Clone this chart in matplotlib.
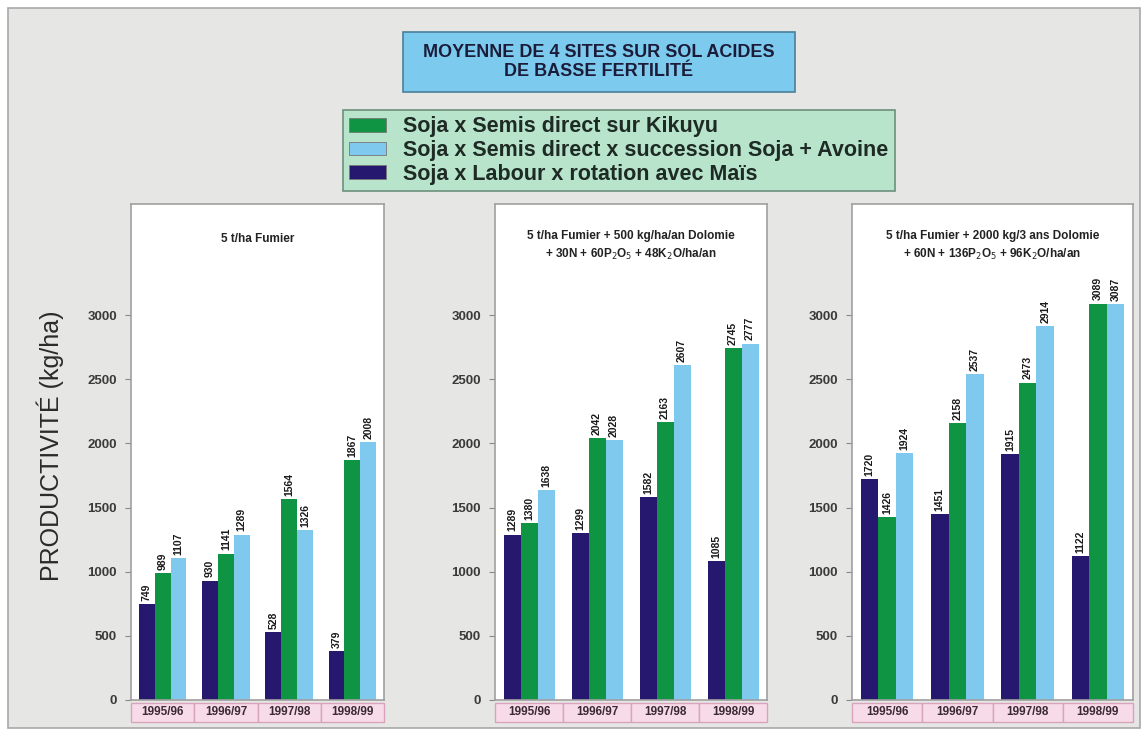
import numpy as np
import matplotlib
matplotlib.use("Agg")
import matplotlib.pyplot as plt
from matplotlib.patches import Rectangle, Patch
from matplotlib.transforms import blended_transform_factory

plt.rcParams.update({
    "font.family": ["Liberation Sans", "DejaVu Sans"],
    "axes.linewidth": 1.0,
})

W, H = 1148, 736

# ---- data ----
SEASONS = ["1995/96", "1996/97", "1997/98", "1998/99"]
SERIES = ["Soja x Labour x rotation avec Maïs",
          "Soja x Semis direct sur Kikuyu",
          "Soja x Semis direct x succession Soja + Avoine"]
COLORS = ["#27186f", "#0f9444", "#7fc8ee"]
LEGEND_ORDER = [1, 2, 0]

TITLES = [
    "5 t/ha Fumier",
    "5 t/ha Fumier + 500 kg/ha/an Dolomie\n+ 30N + 60P$_2$O$_5$ + 48K$_2$O/ha/an",
    "5 t/ha Fumier + 2000 kg/3 ans Dolomie\n+ 60N + 136P$_2$O$_5$ + 96K$_2$O/ha/an",
]
# per panel: labour, kikuyu, avoine
P1_LABOUR = [749, 930, 528, 379]
P1_KIKUYU = [989, 1141, 1564, 1867]
P1_AVOINE = [1107, 1289, 1326, 2008]
P2_LABOUR = [1289, 1299, 1582, 1085]
P2_KIKUYU = [1380, 2042, 2163, 2745]
P2_AVOINE = [1638, 2028, 2607, 2777]
P3_LABOUR = [1720, 1451, 1915, 1122]
P3_KIKUYU = [1426, 2158, 2473, 3089]
P3_AVOINE = [1924, 2537, 2914, 3087]
PANELS = [(P1_LABOUR, P1_KIKUYU, P1_AVOINE),
          (P2_LABOUR, P2_KIKUYU, P2_AVOINE),
          (P3_LABOUR, P3_KIKUYU, P3_AVOINE)]
YTICKS = [0, 500, 1000, 1500, 2000, 2500, 3000]


def fx(px):
    return px / W


def fy(py):
    return 1 - py / H


fig = plt.figure(figsize=(W / 100, H / 100), dpi=100, facecolor="white")

# fond gris + cadre
fig.patches.append(Rectangle((fx(8), fy(728)), fx(1132), (720) / H, transform=fig.transFigure,
                             facecolor="#e6e6e4", edgecolor="#a8a8a8", linewidth=1.2, zorder=-10))

# encadré titre
fig.patches.append(Rectangle((fx(403), fy(92)), fx(392), 60 / H, transform=fig.transFigure,
                             facecolor="#7ccbee", edgecolor="#4a7f9a", linewidth=1.2))
fig.text(fx(599), fy(62), "MOYENNE DE 4 SITES SUR SOL ACIDES\nDE BASSE FERTILITÉ",
         ha="center", va="center", fontsize=13, fontweight="bold", color="#1c1c3a",
         linespacing=1.1)

# panneaux : (gauche px, droite px)
BOXES = [(131, 384), (495, 767), (852, 1133)]
AX_TOP, AX_BOT = 204, 700
YMAX = 3000 * (AX_BOT - AX_TOP) / (AX_BOT - 315)

axes = []
for i, ((l, r), vals, title) in enumerate(zip(BOXES, PANELS, TITLES)):
    ax = fig.add_axes([fx(l), fy(AX_BOT), (r - l) / W, (AX_BOT - AX_TOP) / H])
    ax.set_facecolor("white")
    x = np.arange(len(SEASONS))
    bw = 0.25
    for k, (v, c) in enumerate(zip(vals, COLORS)):
        xs = x + (k - 1) * bw
        ax.bar(xs, v, width=bw, color=c, edgecolor="none", zorder=2)
        for xi, vi in zip(xs, v):
            ax.text(xi, vi + 25, str(vi), rotation=90, ha="center", va="bottom",
                    fontsize=7.5, fontweight="bold", color="#1a1a1a", zorder=3)
    ax.set_xlim(-0.5, 3.5)
    ax.set_ylim(0, YMAX)
    ax.set_yticks(YTICKS)
    ax.set_yticklabels([str(t) for t in YTICKS], fontsize=9.5, fontweight="bold", color="#3a3a3a")
    ax.tick_params(axis="y", length=4, width=0.8, color="#888888", pad=6)
    ax.set_xticks([])
    for s in ax.spines.values():
        s.set_color("#a0a0a0")
        s.set_linewidth(1.2)
    ty = 0.93 if i == 0 else 0.915
    ax.text(0.5, ty, title, transform=ax.transAxes, ha="center", va="center",
            fontsize=8.5, fontweight="bold", color="#222222", linespacing=1.5)
    # cases roses des campagnes
    tr = blended_transform_factory(ax.transData, ax.transAxes)
    y0, hcell = -0.044, 0.038
    for j, s in enumerate(SEASONS):
        ax.add_patch(Rectangle((j - 0.5, y0), 1.0, hcell, transform=tr, clip_on=False,
                               facecolor="#f8dbe8", edgecolor="#d9a3bc", linewidth=1.0))
        ax.text(j, y0 + hcell / 2, s, transform=tr, ha="center", va="center",
                fontsize=8.5, fontweight="bold", color="#3a2a35", clip_on=False)
    axes.append(ax)

fig.text(fx(50), fy(446), "PRODUCTIVITÉ (kg/ha)", rotation=90, ha="center", va="center",
         fontsize=18, color="#2a2a2a")

# légende
handles = [Patch(facecolor=COLORS[k], edgecolor="#777777", linewidth=0.6) for k in LEGEND_ORDER]
labels = [SERIES[k] for k in LEGEND_ORDER]
leg = fig.legend(handles, labels, loc="upper left", bbox_to_anchor=(fx(343), fy(110)),
                 frameon=True, fancybox=False, facecolor="#b8e4cc", edgecolor="#6c8f7c",
                 framealpha=1.0, fontsize=15.5, handlelength=1.7, handleheight=0.6,
                 labelspacing=0.12, borderpad=0.3, handletextpad=0.8, borderaxespad=0)
for t in leg.get_texts():
    t.set_fontweight("bold")
    t.set_color("#1e2a24")
leg.get_frame().set_linewidth(1.2)

fig.savefig("out.png", dpi=100, facecolor="white")
